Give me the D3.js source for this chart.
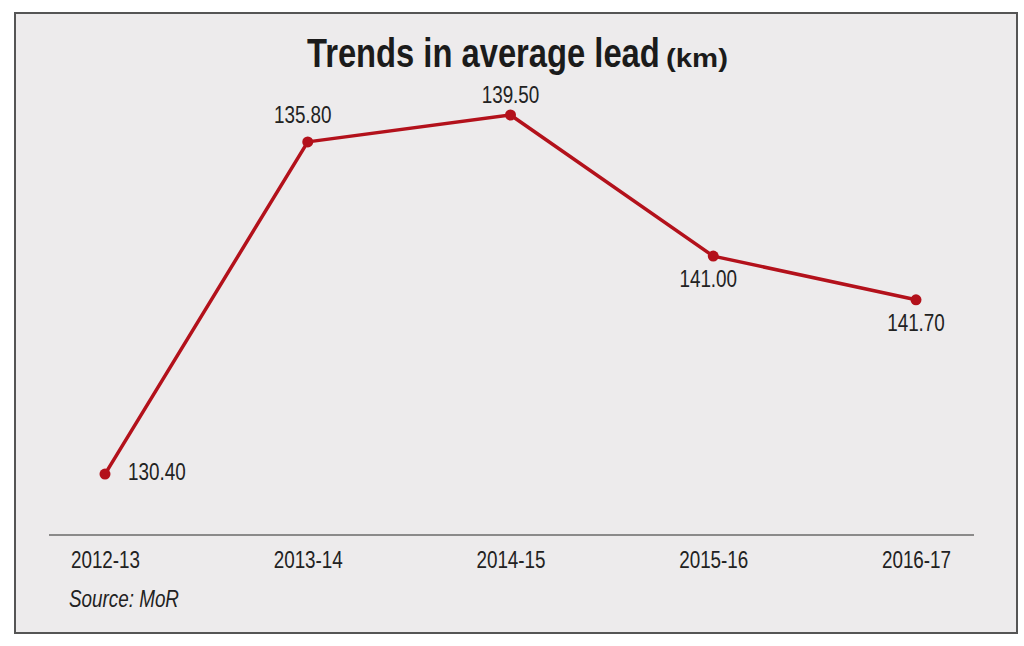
<!DOCTYPE html>
<html>
<head>
<meta charset="utf-8">
<script src="https://cdn.jsdelivr.net/npm/d3@7"></script>
<style>
    body { margin: 0; background: #ffffff; }
    text { font-family: "Liberation Sans", Arial, sans-serif; fill: #222222; }
</style>
</head>
<body>
<div id="chart"></div>
<script>
// years on the x axis
const years = ['2012-13', '2013-14', '2014-15', '2015-16', '2016-17'];
// printed value labels (km)
const leadValues = [130.40, 135.80, 139.50, 141.00, 141.70];
// height of each point as drawn in the source (0 = axis, 100 = highest point)
const drawnLevel = [14.5, 93.6, 100, 66.4, 56];

const width = 1024, height = 646;
// the source uses a condensed face, so squeeze the regular one
const narrow = 0.82;

const svg = d3.select('#chart').append('svg')
    .attr('width', width)
    .attr('height', height);

// frame
svg.append('rect')
    .attr('x', 15).attr('y', 13)
    .attr('width', 1002).attr('height', 620)
    .attr('fill', '#edebec')
    .attr('stroke', '#555555')
    .attr('stroke-width', 2);

// put a text at x,y and squeeze it horizontally to fit a given width
function fitText(x, y, str, size, fitWidth) {
    const g = svg.append('g').attr('transform', `translate(${x},${y})`);
    const t = g.append('text')
        .attr('font-family', '"DejaVu Sans Condensed", "DejaVu Sans", sans-serif')
        .attr('font-weight', 'bold')
        .attr('font-size', size)
        .style('fill', '#1b1b1b')
        .text(str);
    const w = t.node().getComputedTextLength();
    t.attr('transform', `scale(${fitWidth / w},1)`);
    return t;
}

// title
fitText(307, 67, 'Trends in average lead', 41, 353);
fitText(666, 67, '(km)', 26, 62);

// scales
const xScale = d3.scalePoint()
    .domain(years)
    .range([105, 916]);

const yScale = d3.scaleLinear()
    .domain([0, 100])
    .range([535, 115]);

// x axis: plain baseline and labels under each year
const xAxis = svg.append('g')
    .attr('transform', 'translate(0,535)')
    .call(d3.axisBottom(xScale).tickSize(0));

xAxis.select('.domain').remove();
xAxis.append('line')
    .attr('x1', 49).attr('x2', 974)
    .attr('stroke', '#6a6a6a')
    .attr('stroke-width', 1.5);

xAxis.selectAll('.tick text')
    .attr('font-family', null)
    .attr('font-size', 23)
    .attr('fill', null)
    .attr('y', 33)
    .attr('dy', null)
    .attr('transform', `scale(${narrow},1)`);

const data = years.map(function (y, i) {
    return { year: y, value: leadValues[i], level: drawnLevel[i] };
});

// line
const line = d3.line()
    .x(function (d) { return xScale(d.year); })
    .y(function (d) { return yScale(d.level); });

svg.append('path')
    .datum(data)
    .attr('d', line)
    .attr('fill', 'none')
    .attr('stroke', '#b3111b')
    .attr('stroke-width', 3.5)
    .attr('stroke-linejoin', 'round');

// points
svg.append('g')
    .selectAll('circle')
    .data(data)
    .enter()
    .append('circle')
    .attr('cx', function (d) { return xScale(d.year); })
    .attr('cy', function (d) { return yScale(d.level); })
    .attr('r', 5.5)
    .attr('fill', '#b3111b');

// value labels: offset from each point as placed in the source
const labelDx = [23, -5, 0, -5, 0];
const labelDy = [6, -19, -12, 31, 31];
const labelAnchor = ['start', 'middle', 'middle', 'middle', 'middle'];

svg.append('g')
    .selectAll('g')
    .data(data)
    .enter()
    .append('g')
    .attr('transform', function (d, i) {
        return `translate(${xScale(d.year) + labelDx[i]},${yScale(d.level) + labelDy[i]})`;
    })
    .append('text')
    .attr('transform', `scale(${narrow},1)`)
    .attr('text-anchor', function (d, i) { return labelAnchor[i]; })
    .attr('font-size', 23)
    .text(function (d) { return d3.format('.2f')(d.value); });

// source note
svg.append('g')
    .attr('transform', 'translate(69,607)')
    .append('text')
    .attr('transform', `scale(${narrow},1)`)
    .attr('font-size', 23)
    .attr('font-style', 'italic')
    .text('Source: MoR');
</script>
</body>
</html>
